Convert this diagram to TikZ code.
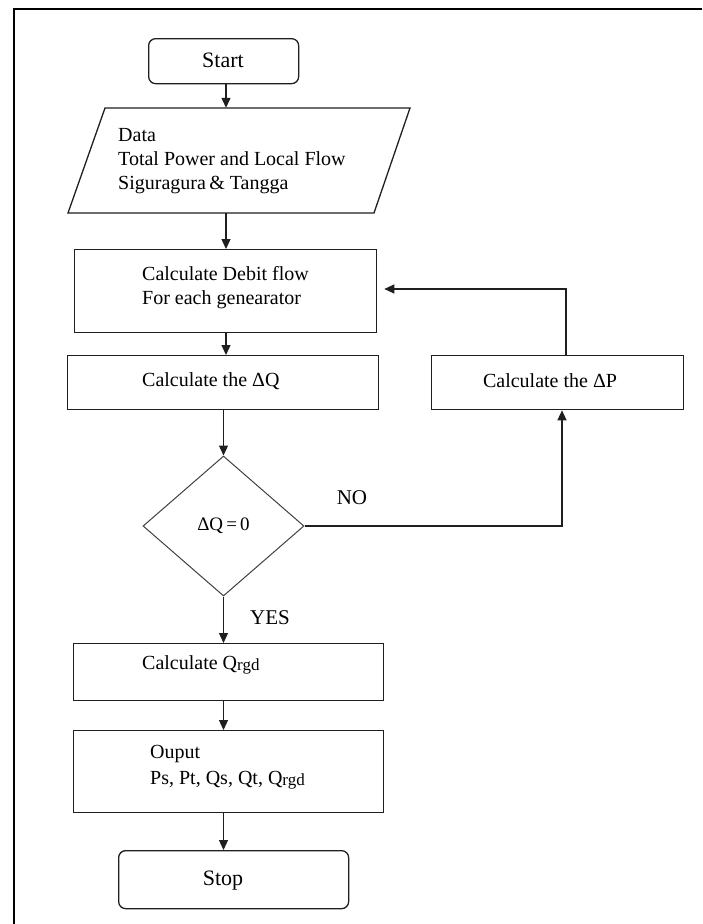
\documentclass[tikz,border=0pt]{standalone}
\usepackage{fontspec}
\setmainfont{Liberation Serif}
\usetikzlibrary{arrows.meta,shapes.geometric}
\newcommand{\rgdsub}{\raisebox{-1.5pt}{\fontsize{17}{17}\selectfont rgd}}
\begin{document}
\begin{tikzpicture}[x=1pt,y=-1pt,
  ln/.style={draw=black!88, line width=1.3pt},
  arr/.style={ln, -{Triangle[length=10pt,width=9pt]}},
  box/.style={ln, rectangle, inner sep=0pt, anchor=north west},
  term/.style={box, rounded corners=7pt},
  txt/.style={inner sep=0pt, font=\fontsize{20}{24}\selectfont, align=left},
  big/.style={inner sep=0pt, font=\fontsize{22}{26}\selectfont},
  dec/.style={draw=black!75, line width=1pt, diamond, inner sep=0pt, minimum width=161pt, minimum height=140pt, font=\fontsize{19}{21}\selectfont}
]
\useasboundingbox (0,0) rectangle (702,924);
% frame
\draw[line width=1.4pt, black] (14,924) -- (14,9) -- (702,9);
\coordinate (axis) at (226,0);

% Start
\node[term, minimum width=150pt, minimum height=45pt] (start) at (148,38) {};
\node[big] (tstart) at (223,60) {Start};

% Data parallelogram
\node[inner sep=0pt, minimum width=269pt, minimum height=105pt] (data) at (239.5,160.5) {};
\draw[ln] (105,108) -- (410,108) -- (374,213) -- (68,213) -- cycle;
\node[txt, anchor=west] (tdata) at (118,161) {Data\\Total Power and Local Flow\\Siguragura\,\& Tangga};

% Debit
\node[box, minimum width=302pt, minimum height=83pt] (debit) at (74,249) {};
\node[txt, anchor=west] (tdebit) at (142,288) {Calculate Debit flow\\For each genearator};

% dQ
\node[box, minimum width=311pt, minimum height=54pt] (dq) at (67,355) {};
\node[txt, anchor=west] (tdq) at (142,381) {Calculate the ΔQ};

% dP
\node[box, minimum width=252pt, minimum height=54pt] (dp) at (431,355) {};
\node[txt] (tdp) at (550,381) {Calculate the ΔP};

% decision
\node[dec] (cond) at (223.5,526) {ΔQ\,=\,0};

% Qrgd
\node[box, minimum width=310pt, minimum height=57pt] (qrgd) at (73,643) {};
\node[txt, anchor=west] (tqrgd) at (142,665) {Calculate Q\rgdsub};

% Output
\node[box, minimum width=310pt, minimum height=82pt] (out) at (73,730) {};
\node[txt, anchor=west, font=\fontsize{20}{26}\selectfont] (tout) at (150,767) {Ouput\\Ps, Pt, Qs, Qt, Q\rgdsub};

% Stop
\node[term, minimum width=230pt, minimum height=58pt] (stop) at (118,850) {};
\node[big] (tstop) at (223,881) {Stop};

% labels
\node[big, font=\fontsize{21}{24}\selectfont] (no) at (352,498) {NO};
\node[big, font=\fontsize{21}{24}\selectfont] (yes) at (270,618) {YES};

% connectors
\draw[arr] (start.south -| axis) -- (data.north -| axis);
\draw[arr] (data.south -| axis) -- (debit.north -| axis);
\draw[arr] (debit.south -| axis) -- (dq.north -| axis);
\draw[arr] (dq.south -| cond) -- (cond.north);
\draw[arr] (cond.south) -- (qrgd.north -| cond);
\draw[arr] (qrgd.south -| cond) -- (out.north -| cond);
\draw[arr] (out.south -| cond) -- (stop.north -| cond);
\coordinate (noup) at (562,0);
\coordinate (back) at (566,289);
\draw[arr] (cond.east) -| (dp.south -| noup);
\draw[arr, shorten >=7pt] (dp.north -| back) |- (debit.east |- back);
\end{tikzpicture}
\end{document}
